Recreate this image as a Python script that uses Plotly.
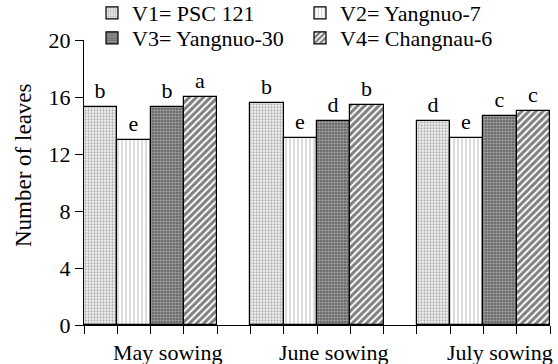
import plotly.graph_objects as go

groups = ["May sowing", "June sowing", "July sowing"]
series = ["V1= PSC 121", "V2= Yangnuo-7", "V3= Yangnuo-30", "V4= Changnau-6"]
v1 = [15.3, 15.6, 14.3]
v2 = [13.0, 13.15, 13.15]
v3 = [15.3, 14.3, 14.65]
v4 = [16.0, 15.45, 15.0]
l1 = ["b", "b", "d"]
l2 = ["e", "e", "e"]
l3 = ["b", "d", "c"]
l4 = ["a", "b", "c"]
yticks = [0, 4, 8, 12, 16, 20]

values = [v1, v2, v3, v4]
letters = [l1, l2, l3, l4]
patterns = [
    dict(shape=".", fgcolor="#707070", bgcolor="#f4f4f4", size=3, solidity=0.45),
    dict(shape="|", fgcolor="#707070", bgcolor="white", size=4, solidity=0.25),
    dict(shape=".", fgcolor="#e0e0e0", bgcolor="#5a5a5a", size=3, solidity=0.6),
    dict(shape="/", fgcolor="black", bgcolor="white", size=5, solidity=0.6),
]
legend_ids = ["legend", "legend", "legend2", "legend2"]

FONT = "Liberation Serif, Times New Roman, serif"
FS = 22
fig = go.Figure()
slot = 5  # 4 bars + 1 gap per group
for i, (name, vals, lets, pat) in enumerate(zip(series, values, letters, patterns)):
    xs = [g * slot + i + 0.5 for g in range(len(groups))]
    fig.add_trace(go.Bar(
        x=xs, y=vals, name=name, width=1, legend=legend_ids[i],
        text=lets, textposition="outside", cliponaxis=False,
        textfont=dict(family=FONT, size=FS, color="black"),
        marker=dict(color="white", pattern=pat, line=dict(color="black", width=1.2)),
    ))

leg_common = dict(orientation="h", x=(92 - 84) / 466, xanchor="left", yanchor="middle",
                  entrywidth=163, entrywidthmode="pixels",
                  font=dict(family=FONT, size=FS, color="black"),
                  bgcolor="rgba(0,0,0,0)", itemclick=False, itemdoubleclick=False)

fig.update_layout(
    width=558, height=364,
    margin=dict(l=84, r=8, t=40, b=39, autoexpand=False),
    plot_bgcolor="white", paper_bgcolor="white",
    font=dict(family=FONT, size=FS, color="black"),
    bargap=0, showlegend=True,
    legend=dict(leg_common, y=1 + (40 - 13) / 285),
    legend2=dict(leg_common, y=1 + (40 - 38) / 285),
    xaxis=dict(range=[0, 14], tickmode="linear", tick0=0, dtick=1,
               showticklabels=False, ticks="outside", ticklen=8, tickwidth=1,
               tickcolor="black", showline=True, linecolor="black",
               linewidth=1, showgrid=False, zeroline=False),
    yaxis=dict(range=[0, 20], tickmode="array", tickvals=yticks,
               ticks="outside", ticklen=8, tickwidth=1, tickcolor="black",
               showline=True, linecolor="black", linewidth=1,
               showgrid=False, zeroline=False),
)
for g, label in enumerate(groups):
    fig.add_annotation(text=label, xref="x", yref="paper", x=g * slot + 2.5,
                       y=(325 - 352) / 285, showarrow=False, xanchor="center",
                       yanchor="middle", font=dict(family=FONT, size=FS))
fig.add_annotation(text="Number of leaves", textangle=-90, xref="paper", yref="paper",
                   x=(23 - 84) / 466, y=(325 - 165) / 285, showarrow=False,
                   font=dict(family=FONT, size=23), xanchor="center", yanchor="middle")

fig.write_html("out.html")
